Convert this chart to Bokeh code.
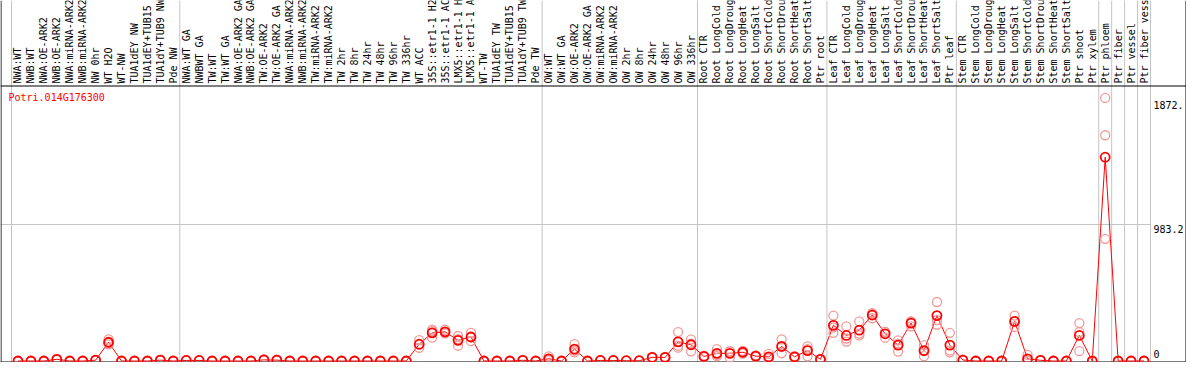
import math
from bokeh.plotting import figure
from bokeh.models import Range1d
from bokeh.core.properties import value
from bokeh.embed import file_html
from bokeh.resources import INLINE

gene = "Potri.014G176300"

labels = [
    "NWA:WT", "NWB:WT", "NWA:OE-ARK2", "NWB:OE-ARK2", "NWA:miRNA-ARK2", "NWB:miRNA-ARK2",
    "NW 0hr", "WT H2O", "WT-NW", "TUA1dEY NW", "TUA1dEY+TUB15", "TUA1dY+TUB9 NW", "Pde NW",
    "NWA:WT GA", "NWBWT GA", "TW:WT", "TW:WT GA", "NWA:OE-ARK2 GA", "NWB:OE-ARK2 GA",
    "TW:OE-ARK2", "TW:OE-ARK2 GA", "NWA:miRNA-ARK2", "NWB:miRNA-ARK2", "TW:miRNA-ARK2",
    "TW:miRNA-ARK2", "TW 2hr", "TW 8hr", "TW 24hr", "TW 48hr", "TW 96hr", "TW 336hr",
    "WT ACC", "35S::etr1-1 H2", "35S::etr1-1 AC", "LMX5::etr1-1 H", "LMX5::etr1-1 A",
    "WT-TW", "TUA1dEY TW", "TUA1dEY+TUB15", "TUA1dY+TUB9 TW", "Pde TW",
    "OW:WT", "OW:WT GA", "OW:OE-ARK2", "OW:OE-ARK2 GA", "OW:miRNA-ARK2", "OW:miRNA-ARK2",
    "OW 2hr", "OW 8hr", "OW 24hr", "OW 48hr", "OW 96hr", "OW 336hr",
    "Root CTR", "Root LongCold", "Root LongDroug", "Root LongHeat", "Root LongSalt",
    "Root ShortCold", "Root ShortDrou", "Root ShortHeat", "Root ShortSalt", "Ptr root",
    "Leaf CTR", "Leaf LongCold", "Leaf LongDroug", "Leaf LongHeat", "Leaf LongSalt",
    "Leaf ShortCold", "Leaf ShortDrou", "Leaf ShortHeat", "Leaf ShortSalt", "Ptr leaf",
    "Stem CTR", "Stem LongCold", "Stem LongDroug", "Stem LongHeat", "Stem LongSalt",
    "Stem ShortCold", "Stem ShortDrou", "Stem ShortHeat", "Stem ShortSalt", "Ptr shoot",
    "Ptr xylem", "Ptr phloem", "Ptr fiber", "Ptr vessel", "Ptr fiber vess",
]

group_sizes = [13, 28, 12, 10, 10, 11, 1, 1, 1, 1]

means = [
    0, 0, 0, 12, 0, 0, 6, 135, 0, 0, 0, 6, 0,
    4, 4, 0, 0, 0, 0, 8, 6, 0, 0, 0, 0, 0, 0, 0, 0, 0, 0, 121, 203, 210, 149, 173, 0, 0, 0, 5, 0,
    16, 0, 86, 0, 4, 4, 2, 2, 26, 26, 138, 117,
    33, 55, 55, 63, 35, 30, 105, 30, 75, 12,
    257, 184, 222, 331, 196, 114, 273, 75, 327, 114,
    7, 0, 0, 0, 285, 16, 5, 0, 0, 184, 0,
    1468, 0, 0, 0,
]

rep_a = [
    0, 0, 0, 16, 0, 0, 8, 156, 0, 0, 0, 10, 0,
    6, 6, 0, 0, 0, 0, 12, 9, 0, 0, 0, 0, 0, 0, 0, 0, 0, 0, 150, 226, 225, 180, 203, 0, 0, 0, 8, 0,
    33, 0, 121, 0, 6, 6, 3, 3, 30, 30, 208, 156,
    38, 86, 71, 72, 40, 51, 156, 35, 105, 15,
    327, 250, 285, 345, 210, 149, 285, 114, 425, 203,
    10, 0, 0, 0, 327, 44, 8, 0, 0, 273, 0,
    1895, 0, 0, 0,
]

rep_b = [
    0, 0, 0, 12, 0, 0, 6, 130, 0, 0, 0, 5, 0,
    4, 4, 0, 0, 0, 0, 8, 6, 0, 0, 0, 0, 0, 0, 0, 0, 0, 0, 118, 215, 205, 157, 173, 0, 0, 0, 5, 0,
    10, 0, 75, 0, 4, 4, 2, 2, 26, 26, 110, 125,
    33, 44, 69, 63, 35, 22, 103, 30, 86, 12,
    241, 162, 197, 340, 210, 125, 284, 76, 295, 76,
    7, 0, 0, 0, 283, 3, 5, 0, 0, 208, 0,
    1626, 0, 0, 0,
]

rep_c = [
    0, 0, 0, 8, 0, 0, 4, 120, 0, 0, 0, 3, 0,
    2, 2, 0, 0, 0, 0, 4, 3, 0, 0, 0, 0, 0, 0, 0, 0, 0, 0, 95, 168, 200, 110, 143, 0, 0, 0, 2, 0,
    5, 0, 62, 0, 2, 2, 1, 1, 22, 22, 96, 70,
    28, 35, 25, 54, 30, 17, 56, 25, 34, 9,
    203, 140, 184, 308, 168, 68, 250, 35, 261, 63,
    4, 0, 0, 0, 245, 1, 2, 0, 0, 71, 0,
    880, 0, 0, 0,
]

y_ticks = [0, 983.2, 1872.4]
y_tick_labels = ["0", "983.2", "1872."]

# ---- layout ----
W, H = 1186, 362
n = len(labels)
xs = list(range(1, n + 1))

# x: first boundary -> canvas 11 px, last boundary -> canvas 1150 px
kx = (1150 - 11) / n
x_start = 0.5 - 11 / kx
x_end = 0.5 + (W - 11) / kx
# y: value 0 -> canvas 360.5, middle tick -> canvas 224
ky = (360.5 - 224) / y_ticks[1]
y_start = -(H - 360.5) / ky
y_end = 360.5 / ky

p = figure(width=W, height=H, output_backend="svg", toolbar_location=None, title=None,
           x_axis_type=None, y_axis_type=None,
           x_range=Range1d(x_start, x_end), y_range=Range1d(y_start, y_end),
           min_border=0)
p.outline_line_color = None
p.background_fill_color = "white"
p.border_fill_color = "white"
p.extra_x_ranges = {"px": Range1d(0, W)}
p.extra_y_ranges = {"px": Range1d(H, 0)}

mono = value("DejaVu Sans Mono")

# group separators (grey, full height)
bounds = [0.5]
for g in group_sizes:
    bounds.append(bounds[-1] + g)
p.segment(x0=bounds, y0=[0] * len(bounds), x1=bounds, y1=[H] * len(bounds),
          y_range_name="px", line_color="#c4c4c4", line_width=1)

# horizontal grid at middle tick
p.segment(x0=[x_start], y0=[y_ticks[1]], x1=[bounds[-1]], y1=[y_ticks[1]],
          line_color="#c4c4c4", line_width=1)

# black frame lines
p.segment(x0=[0, 0, 0.5, W - 0.5], y0=[85.5, 361.5, 0, 0],
          x1=[W, W, 0.5, W - 0.5], y1=[85.5, 361.5, H, H],
          x_range_name="px", y_range_name="px", line_color="black", line_width=1)

# category labels (vertical)
p.text(x=xs, y=[83] * n, text=labels, angle=math.pi / 2, y_range_name="px",
       text_align="left", text_baseline="middle", text_font=mono,
       text_font_size="10px", text_color="black")

# gene name
p.text(x=[8], y=[97], text=[gene], x_range_name="px", y_range_name="px",
       text_align="left", text_baseline="middle", text_font=mono,
       text_font_size="10px", text_color="#ff0000")

# y tick labels inside the frame
p.text(x=[bounds[-1]] * 2, y=y_ticks[1:], text=y_tick_labels[1:], x_offset=3, y_offset=0,
       text_align="left", text_baseline="top", text_font=mono,
       text_font_size="10px", text_color="black")
p.text(x=[bounds[-1]], y=y_ticks[:1], text=y_tick_labels[:1], x_offset=3, y_offset=-3,
       text_align="left", text_baseline="bottom", text_font=mono,
       text_font_size="10px", text_color="black")

# data
p.line(xs, means, line_color="#ff0000", line_width=1)
p.scatter(xs * 3, rep_a + rep_b + rep_c, marker="circle", size=9,
          fill_color=None, line_color="#f29a9a", line_width=1.3)
p.scatter(xs, means, marker="circle", size=9, fill_color=None,
          line_color="#ff0000", line_width=1.8)

open("out.html", "w").write(file_html(p, INLINE))
